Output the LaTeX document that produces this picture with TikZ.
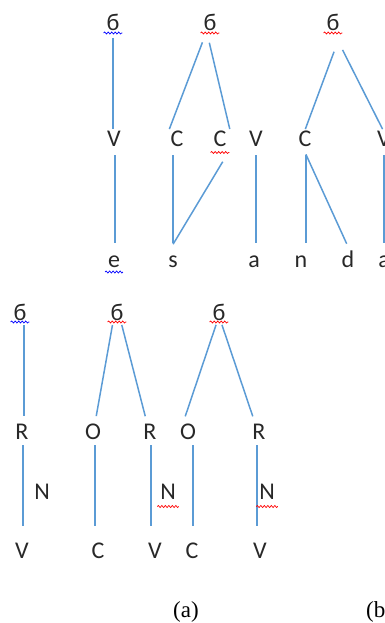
\documentclass[tikz,border=0pt]{standalone}
\usepackage{fontspec}
\setmainfont{Liberation Serif}
\newfontfamily\segfont{Carlito}
\usepackage{tikz}
\usetikzlibrary{decorations.pathmorphing}
\definecolor{linkblue}{RGB}{91,155,213}
\definecolor{inkgrey}{RGB}{40,40,40}

\begin{document}
\begin{tikzpicture}[x=1pt, y=-1pt,
  seg/.style={font=\segfont\fontsize{24}{28}\selectfont, text=inkgrey, inner sep=0pt,
    outer sep=0pt, anchor=base, text height=16pt, text depth=2pt},
  link/.style={draw=linkblue, line width=1.5pt},
  upA/.style={link, shorten <=8pt, shorten >=1pt},
  loA/.style={link, shorten <=7pt, shorten >=8pt},
  upB/.style={link, shorten <=3pt, shorten >=7pt},
  loB/.style={link, shorten <=4pt, shorten >=16pt},
  squig/.style={draw=#1, line width=0.7pt, decorate,
    decoration={snake, amplitude=1pt, segment length=3.5pt}},
  caption/.style={font=\fontsize{23}{27}\selectfont, inner sep=0pt}]

  \newcommand\RowA{31}
  \newcommand\RowB{146}
  \newcommand\RowC{267}
  \newcommand\RowD{320}
  \newcommand\RowE{439}
  \newcommand\RowF{558}
  \newcommand\wavy[3]{\draw[squig=#1] ([xshift=-3pt,yshift=#3]#2.south west) --
    ([xshift=3pt,yshift=#3]#2.south east);}

  \clip (0,0) rectangle (385,623);
  \useasboundingbox (0,0) rectangle (385,623);

  % upper trees
  \node[seg] (sa1) at (113, \RowA) {б};
  \node[seg] (sa2) at (210, \RowA) {б};
  \node[seg] (sa3) at (333, \RowA) {б};

  \node[seg] (va1) at (114, \RowB) {V};
  \node[seg] (ca1) at (177, \RowB) {C};
  \node[seg] (ca2) at (220, \RowB) {C};
  \node[seg] (va2) at (256, \RowB) {V};
  \node[seg] (ca3) at (305, \RowB) {C};
  \node[seg] (va3) at (384, \RowB) {V};

  \node[seg] (eb)  at (114, \RowC) {e};
  \node[seg] (sb)  at (173, \RowC) {s};
  \node[seg] (ab1) at (254, \RowC) {a};
  \node[seg] (nb)  at (301, \RowC) {n};
  \node[seg] (db)  at (348, \RowC) {d};
  \node[seg] (ab2) at (384, \RowC) {a};

  \draw[upA, shorten <=5pt] (sa1.south) -- ([xshift=-1pt]va1.north);
  \draw[loA] ([xshift=1pt]va1.south) -- ([xshift=1pt]eb.north);
  \draw[upA, shorten <=10pt] ([xshift=-4pt]sa2.south) -- ([xshift=-8pt]ca1.north);
  \draw[upA, shorten <=10pt] ([xshift=-3pt]sa2.south) -- ([xshift=10pt]ca2.north);
  \draw[loA] ([xshift=-4pt]ca1.south) -- (sb.north);
  \draw[loA, shorten <=16pt] ([xshift=11pt]ca2.south) -- ([xshift=-4pt]sb.north);
  \draw[loA] (va2.south) -- ([xshift=2pt]ab1.north);
  \draw[upA, shorten <=20pt] ([xshift=8pt]sa3.south) -- (ca3.north);
  \draw[upA, shorten <=19pt] ([xshift=1pt]sa3.south) -- ([xshift=-1pt]va3.north);
  \draw[loA] ([xshift=1pt]ca3.south) -- ([xshift=5pt]nb.north);
  \draw[loA] ([xshift=-2pt]ca3.south) -- ([xshift=2pt]db.north);
  \draw[loA] (va3.south) -- (ab2.north);

  % lower trees
  \node[seg] (sc1) at (20, \RowD) {б};
  \node[seg] (sc2) at (117, \RowD) {б};
  \node[seg] (sc3) at (219, \RowD) {б};

  \node[seg] (rc1) at (22, \RowE) {R};
  \node[seg] (oc1) at (93, \RowE) {O};
  \node[seg] (rc2) at (150, \RowE) {R};
  \node[seg] (oc2) at (188, \RowE) {O};
  \node[seg] (rc3) at (259, \RowE) {R};

  \node[seg] (nn1) at (42, 499) {N};
  \node[seg] (nn2) at (168, 499) {N};
  \node[seg] (nn3) at (267, 499) {N};

  \node[seg] (vd1) at (22, \RowF) {V};
  \node[seg] (cd1) at (98, \RowF) {C};
  \node[seg] (vd2) at (155, \RowF) {V};
  \node[seg] (cd2) at (192, \RowF) {C};
  \node[seg] (vd3) at (260, \RowF) {V};

  \draw[upB] ([xshift=4pt]sc1.south) -- ([xshift=2pt]rc1.north);
  \draw[loB] ([xshift=1pt]rc1.south) -- ([xshift=1pt]vd1.north);
  \draw[upB] ([xshift=-4pt]sc2.south) -- ([xshift=2pt]oc1.north);
  \draw[upB] ([xshift=4pt]sc2.south) -- ([xshift=-3pt]rc2.north);
  \draw[loB] ([xshift=2pt]oc1.south) -- ([xshift=-3pt]cd1.north);
  \draw[loB] ([xshift=1pt]rc2.south) -- ([xshift=-4pt]vd2.north);
  \draw[upB] ([xshift=-2pt]sc3.south) -- ([xshift=-5pt]oc2.north);
  \draw[upB] ([xshift=2pt]sc3.south) -- ([xshift=-4pt]rc3.north);
  \draw[loB] ([xshift=5pt]oc2.south) -- ([xshift=1pt]cd2.north);
  \draw[loB] ([xshift=-2pt]rc3.south) -- ([xshift=-3pt]vd3.north);

  % spelling marks
  \wavy{blue}{sa1}{0pt}
  \wavy{red}{sa2}{0pt}
  \wavy{red}{sa3}{0pt}
  \wavy{red}{ca2}{-4.5pt}
  \wavy{blue}{eb}{-3pt}
  \wavy{blue}{sc1}{0pt}
  \wavy{red}{sc2}{0pt}
  \wavy{red}{sc3}{0pt}
  \wavy{red}{nn2}{-5.5pt}
  \wavy{red}{nn3}{-5.5pt}

  \node[caption, anchor=base] (capa) at (186, 617) {(a)};
  \node[caption, anchor=base west] (capb) at (366, 617) {(b)};

\end{tikzpicture}
\end{document}
